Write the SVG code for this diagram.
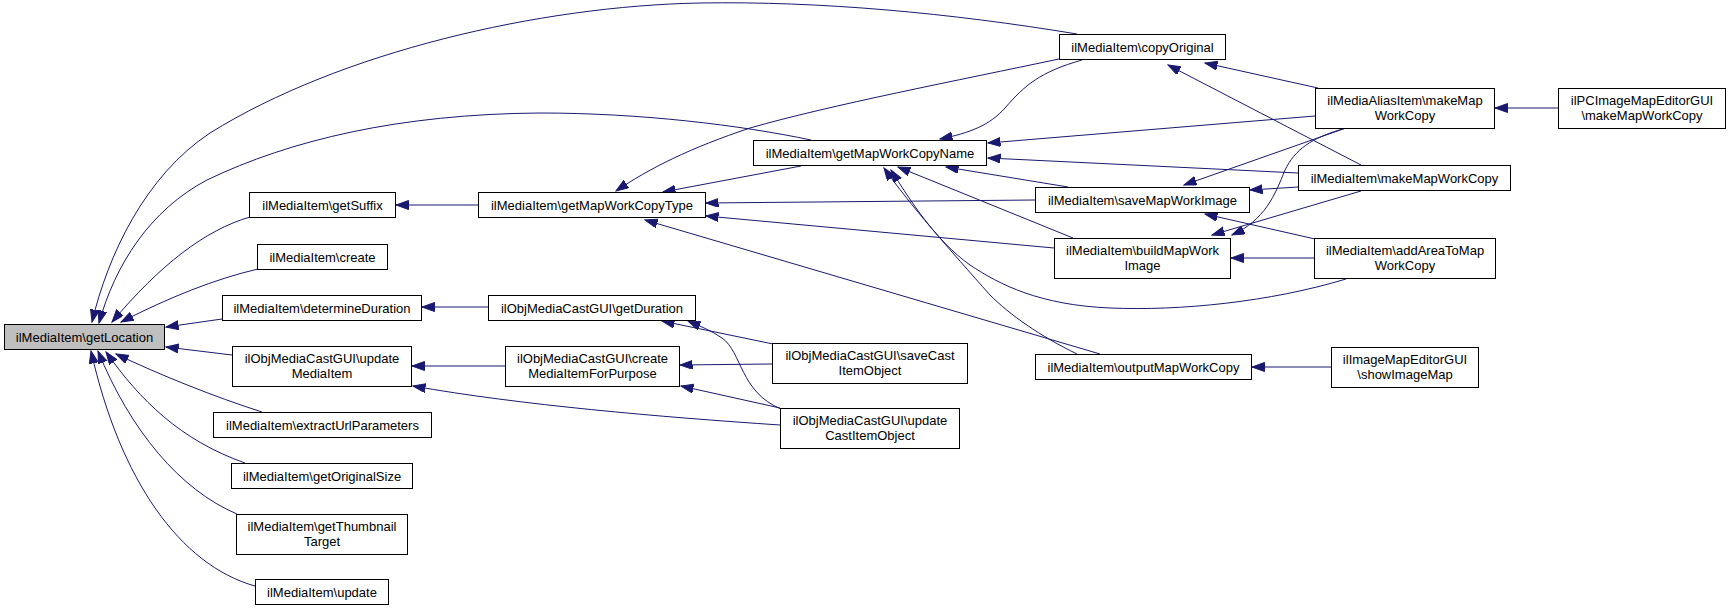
<svg xmlns="http://www.w3.org/2000/svg" width="1731" height="611" viewBox="0 0 1731 611">
<style>
.n rect{fill:#ffffff;stroke:#000000;stroke-width:1}
.n.root rect{fill:#bfbfbf}
.n text{font-family:"Liberation Sans",Arial,sans-serif;font-size:13px;fill:#000000;text-anchor:middle}
.e path{fill:none;stroke:#191970;stroke-width:1;marker-end:url(#ah)}
</style>
<defs>
<marker id="ah" markerWidth="14" markerHeight="10" refX="12.5" refY="4.5" orient="auto" markerUnits="userSpaceOnUse">
<path d="M0,0 L12.5,4.5 L0,9 z" fill="#191970" stroke="#191970" stroke-width="1"/>
</marker>
</defs>
<rect x="0" y="0" width="1731" height="611" fill="#ffffff"/>
<g id="edges" class="e">
<path d="M1077,34 C950,13 820,1 700,3 C540,6 340,52 210,133 C145,176 108,255 92,322"/>
<path d="M811,140 C740,125 640,113 540,113 C400,114 290,140 207,180 C150,210 115,265 99,323"/>
<path d="M250,217 C205,230 160,265 112,322"/>
<path d="M258,269 C215,279 170,297 121,322"/>
<path d="M222,319 L166,327"/>
<path d="M232,355 L166,347"/>
<path d="M262,412 C215,397 160,375 116,354"/>
<path d="M245,463 C180,440 140,400 106,352"/>
<path d="M237,514 C180,490 130,430 98,351"/>
<path d="M255,586 C180,565 120,480 91,351"/>
<path d="M478,205 L396,205"/>
<path d="M488,307 L422,307"/>
<path d="M505,366 L412,366"/>
<path d="M780,425 C660,417 520,405 413,386"/>
<path d="M1059,59 C960,80 830,105 750,128 C690,148 650,168 616,191"/>
<path d="M801,166 L663,192"/>
<path d="M1035,200 L706,203"/>
<path d="M1054,248 L706,216"/>
<path d="M1100,354 L645,220"/>
<path d="M773,344 L662,321"/>
<path d="M781,409 C740,392 742,352 722,338 C712,331 700,326 688,321"/>
<path d="M772,364 L680,365"/>
<path d="M780,408 L681,386"/>
<path d="M1082,60 C1040,72 1025,85 1005,108 C990,125 970,133 940,139"/>
<path d="M1315,116 L988,143"/>
<path d="M1298,173 L988,158"/>
<path d="M1068,187 L946,167"/>
<path d="M1073,238 L898,167"/>
<path d="M1077,354 C1040,336 1010,315 990,295 C950,250 910,205 884,168"/>
<path d="M1346,279 C1270,302 1180,311 1110,308 C1040,305 1000,285 970,265 C935,240 910,200 891,170"/>
<path d="M1318,88 L1205,63"/>
<path d="M1361,165 L1168,65"/>
<path d="M1346,128 L1184,185"/>
<path d="M1298,187 L1250,190"/>
<path d="M1315,239 L1205,214"/>
<path d="M1346,128 C1310,138 1295,150 1285,170 C1275,195 1265,220 1232,235"/>
<path d="M1361,191 L1212,235"/>
<path d="M1314,258 L1231,258"/>
<path d="M1558,108 L1495,108"/>
<path d="M1331,367 L1252,367"/>
</g>
<g id="getLocation" class="n root"><rect x="4.5" y="324.5" width="160" height="25"/><text x="84.5" y="341.5">ilMediaItem\getLocation</text></g>
<g id="getSuffix" class="n"><rect x="249.5" y="192.5" width="146" height="25"/><text x="322.5" y="209.5">ilMediaItem\getSuffix</text></g>
<g id="create" class="n"><rect x="257.5" y="244.5" width="130" height="25"/><text x="322.5" y="261.5">ilMediaItem\create</text></g>
<g id="determineDuration" class="n"><rect x="222.5" y="295.5" width="199" height="25"/><text x="322" y="312.5">ilMediaItem\determineDuration</text></g>
<g id="updateMediaItem" class="n"><rect x="232.5" y="346.5" width="179" height="40"/><text x="322" y="362.5">ilObjMediaCastGUI\update</text><text x="322" y="377.5">MediaItem</text></g>
<g id="extractUrlParameters" class="n"><rect x="213.5" y="412.5" width="218" height="25"/><text x="322.5" y="429.5">ilMediaItem\extractUrlParameters</text></g>
<g id="getOriginalSize" class="n"><rect x="231.5" y="463.5" width="181" height="25"/><text x="322" y="480.5">ilMediaItem\getOriginalSize</text></g>
<g id="getThumbnailTarget" class="n"><rect x="236.5" y="514.5" width="171" height="40"/><text x="322" y="530.5">ilMediaItem\getThumbnail</text><text x="322" y="545.5">Target</text></g>
<g id="update" class="n"><rect x="255.5" y="579.5" width="133" height="25"/><text x="322" y="596.5">ilMediaItem\update</text></g>
<g id="getMapWorkCopyType" class="n"><rect x="478.5" y="192.5" width="227" height="25"/><text x="592" y="209.5">ilMediaItem\getMapWorkCopyType</text></g>
<g id="getDuration" class="n"><rect x="488.5" y="295.5" width="207" height="25"/><text x="592" y="312.5">ilObjMediaCastGUI\getDuration</text></g>
<g id="createMediaItemForPurpose" class="n"><rect x="505.5" y="346.5" width="174" height="40"/><text x="592.5" y="362.5">ilObjMediaCastGUI\create</text><text x="592.5" y="377.5">MediaItemForPurpose</text></g>
<g id="getMapWorkCopyName" class="n"><rect x="753.5" y="140.5" width="233" height="25"/><text x="870" y="157.5">ilMediaItem\getMapWorkCopyName</text></g>
<g id="saveCastItemObject" class="n"><rect x="772.5" y="343.5" width="195" height="40"/><text x="870" y="359.5">ilObjMediaCastGUI\saveCast</text><text x="870" y="374.5">ItemObject</text></g>
<g id="updateCastItemObject" class="n"><rect x="780.5" y="408.5" width="179" height="40"/><text x="870" y="424.5">ilObjMediaCastGUI\update</text><text x="870" y="439.5">CastItemObject</text></g>
<g id="copyOriginal" class="n"><rect x="1059.5" y="34.5" width="166" height="25"/><text x="1142.5" y="51.5">ilMediaItem\copyOriginal</text></g>
<g id="saveMapWorkImage" class="n"><rect x="1035.5" y="187.5" width="214" height="25"/><text x="1142.5" y="204.5">ilMediaItem\saveMapWorkImage</text></g>
<g id="buildMapWorkImage" class="n"><rect x="1054.5" y="238.5" width="176" height="40"/><text x="1142.5" y="254.5">ilMediaItem\buildMapWork</text><text x="1142.5" y="269.5">Image</text></g>
<g id="outputMapWorkCopy" class="n"><rect x="1035.5" y="354.5" width="216" height="25"/><text x="1143.5" y="371.5">ilMediaItem\outputMapWorkCopy</text></g>
<g id="aliasMakeMapWorkCopy" class="n"><rect x="1315.5" y="88.5" width="179" height="40"/><text x="1405" y="104.5">ilMediaAliasItem\makeMap</text><text x="1405" y="119.5">WorkCopy</text></g>
<g id="makeMapWorkCopy" class="n"><rect x="1298.5" y="165.5" width="212" height="25"/><text x="1404.5" y="182.5">ilMediaItem\makeMapWorkCopy</text></g>
<g id="addAreaToMapWorkCopy" class="n"><rect x="1314.5" y="238.5" width="181" height="40"/><text x="1405" y="254.5">ilMediaItem\addAreaToMap</text><text x="1405" y="269.5">WorkCopy</text></g>
<g id="showImageMap" class="n"><rect x="1331.5" y="347.5" width="147" height="40"/><text x="1405" y="363.5">ilImageMapEditorGUI</text><text x="1405" y="378.5">\showImageMap</text></g>
<g id="pcMakeMapWorkCopy" class="n"><rect x="1558.5" y="88.5" width="167" height="40"/><text x="1642" y="104.5">ilPCImageMapEditorGUI</text><text x="1642" y="119.5">\makeMapWorkCopy</text></g>
</svg>
